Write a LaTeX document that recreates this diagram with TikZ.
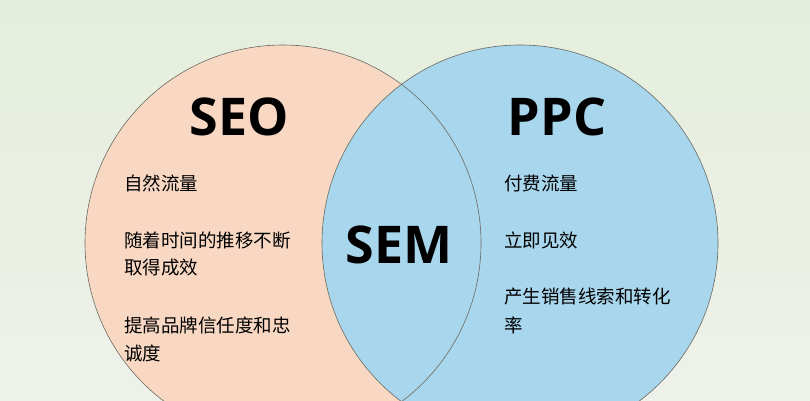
\documentclass[tikz,border=0pt]{standalone}
\usepackage{fontspec}
\newfontfamily\cjk{Noto Sans CJK SC}
\newfontfamily\head{Open Sans}
\definecolor{bgtop}{HTML}{E5EEDC}
\definecolor{bgbot}{HTML}{EEF1EA}
\definecolor{peach}{HTML}{F8D8C3}
\definecolor{sky}{HTML}{A8D6EC}
\definecolor{rim}{HTML}{6A6A60}
\begin{document}
\begin{tikzpicture}[x=1pt,y=1pt,
  ring/.style={draw=rim,line width=0.6pt},
  big/.style={font=\head\bfseries\fontsize{52}{56}\selectfont,inner sep=0pt},
  item/.style={font=\cjk\fontsize{18.5}{28}\selectfont,anchor=west,inner sep=0pt,align=left}]
\shade[top color=bgtop,bottom color=bgbot] (0,0) rectangle (810,400);
\useasboundingbox (0,0) rectangle (810,400);
\begin{scope}
\clip (0,0) rectangle (810,400);
\fill[peach] (283,157) circle (198);
\fill[sky] (520,157) circle (198);
\draw[ring] (283,157) circle (198);
\draw[ring] (520,157) circle (198);
\end{scope}
\node[big] (seo) at (239,283) {SEO};
\node[big] (ppc) at (557,283) {PPC};
\node[big] (sem) at (399,155) {SEM};
\node[item] (a1) at (124,217) {自然流量};
\node[item] (a2) at (124,160) {随着时间的推移不断};
\node[item] (a3) at (124,132) {取得成效};
\node[item] (a4) at (124,75) {提高品牌信任度和忠};
\node[item] (a5) at (124,47) {诚度};
\node[item] (b1) at (504,217) {付费流量};
\node[item] (b2) at (504,160) {立即见效};
\node[item] (b3) at (504,103) {产生销售线索和转化};
\node[item] (b4) at (504,75) {率};
\end{tikzpicture}
\end{document}
